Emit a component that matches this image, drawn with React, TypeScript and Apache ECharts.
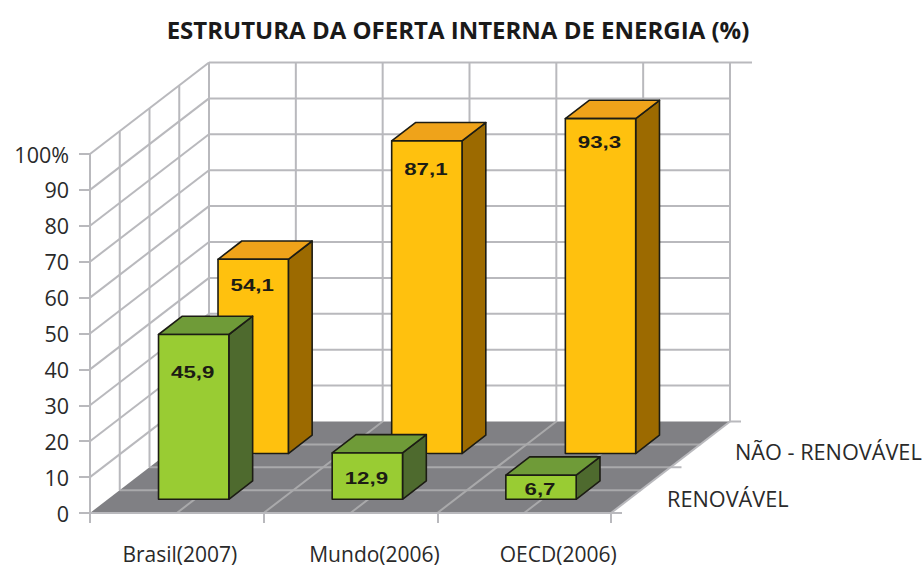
import React, { useEffect, useRef } from "react";
import * as echarts from "echarts";

const titleText = "ESTRUTURA DA OFERTA INTERNA DE ENERGIA (%)";
const categories = ["Brasil(2007)", "Mundo(2006)", "OECD(2006)"];
const renewable = [45.9, 12.9, 6.7];
const nonRenewable = [54.1, 87.1, 93.3];
const renewableLabels = ["45,9", "12,9", "6,7"];
const nonRenewableLabels = ["54,1", "87,1", "93,3"];
const depthNames = ["NÃO - RENOVÁVEL", "RENOVÁVEL"];
const yTicks = [0, 10, 20, 30, 40, 50, 60, 70, 80, 90, 100];

const FONT = "'Open Sans', 'Noto Sans', sans-serif";
const DX = 119;
const DY = -91.5;
const GRID = "#b9b9bd";
const FLOOR_LINE = "#a9a9ab";

function makeWalls() {
  return (params: any, api: any) => {
    const cs = params.coordSys;
    const L = cs.x, R = cs.x + cs.width;
    const yOf = (v: number) => api.coord([0, v])[1];
    const y0 = yOf(0), y100 = yOf(100);
    const line = (x1: number, y1: number, x2: number, y2: number, stroke: string) => ({
      type: "line",
      shape: { x1, y1, x2, y2 },
      style: { stroke, lineWidth: 2 },
      silent: true,
    });
    const kids: any[] = [];
    kids.push({
      type: "polygon",
      shape: { points: [[L, y0], [R, y0], [R + DX, y0 + DY], [L + DX, y0 + DY]] },
      style: { fill: "#808084" },
      silent: true,
    });
    // floor lines
    for (const d of [0.25, 0.5, 0.75]) {
      kids.push(line(L + DX * d, y0 + DY * d, R + DX * d, y0 + DY * d, FLOOR_LINE));
    }
    for (let i = 1; i < 6; i++) {
      const x = L + (cs.width * i) / 6;
      kids.push(line(x, y0, x + DX, y0 + DY, FLOOR_LINE));
    }
    // back wall
    for (const v of yTicks) {
      const y = yOf(v) + DY;
      if (v > 0) kids.push(line(L + DX, y, R + DX, y, GRID));
    }
    for (let i = 0; i <= 6; i++) {
      const x = L + DX + (cs.width * i) / 6;
      kids.push(line(x, y100 + DY, x, y0 + DY, GRID));
    }
    // side wall
    for (const v of yTicks) {
      const y = yOf(v);
      if (v > 0) kids.push(line(L, y, L + DX, y + DY, GRID));
    }
    for (const d of [0.25, 0.5, 0.75]) {
      kids.push(line(L + DX * d, y100 + DY * d, L + DX * d, y0 + DY * d, GRID));
    }
    // floor edge and depth ticks
    kids.push(line(R, y0, R + DX, y0 + DY, GRID));
    kids.push(line(R, y0, R + 11, y0, GRID));
    kids.push(line(R + DX * 0.5, y0 + DY * 0.5, R + DX * 0.5 + 11, y0 + DY * 0.5, GRID));
    kids.push(line(R + DX, y0 + DY, R + DX + 11, y0 + DY, GRID));
    kids.push(line(R + DX, y100 + DY, R + DX + 22, y100 + DY, GRID));
    return { type: "group", children: kids };
  };
}

function makeBars(
  depth: number,
  labels: string[],
  drops: number[],
  colors: { front: string; top: string; side: string }
) {
  const D = 0.2;
  return (params: any, api: any) => {
    const i = api.value(0);
    const top = api.coord([i, api.value(1)]);
    const base = api.coord([i, 0]);
    const w = api.size([1, 0])[0] * 0.405;
    const ox = DX * (depth - D / 2) - 1, oy = DY * (depth - D / 2);
    const sx = DX * D, sy = DY * D;
    const x1 = top[0] - w / 2 + ox, x2 = x1 + w;
    const yT = top[1] + oy, yB = base[1] + oy;
    const stroke = { stroke: "#1c1c14", lineWidth: 1.6, lineJoin: "round" };
    return {
      type: "group",
      children: [
        {
          type: "polygon",
          shape: { points: [[x2, yT], [x2 + sx, yT + sy], [x2 + sx, yB + sy], [x2, yB]] },
          style: { fill: colors.side, ...stroke },
        },
        {
          type: "polygon",
          shape: { points: [[x1, yT], [x1 + sx, yT + sy], [x2 + sx, yT + sy], [x2, yT]] },
          style: { fill: colors.top, ...stroke },
        },
        {
          type: "rect",
          shape: { x: x1, y: yT, width: w, height: yB - yT },
          style: { fill: colors.front, ...stroke },
        },
        {
          type: "text",
          x: (x1 + x2) / 2 - 1,
          y: yT + drops[i],
          scaleX: 1.35,
          style: {
            text: labels[i],
            x: 0,
            y: 0,
            align: "center",
            verticalAlign: "middle",
            fill: "#1c1c14",
            font: "bold 16.5px 'Liberation Sans', sans-serif",
          },
        },
      ],
    };
  };
}

const orange = { front: "#FFC10E", top: "#EFA31A", side: "#9C6A00" };
const green = { front: "#99CC33", top: "#6F9B38", side: "#4E6A2E" };
const nonRenewableDrops = [26, 28, 24];
const renewableDrops = [38, 25, 14];

export default function App() {
  const ref = useRef<HTMLDivElement>(null);
  useEffect(() => {
    if (!ref.current) return;
    const chart = echarts.init(ref.current, undefined, { renderer: "svg" });
    chart.setOption({
      animation: false,
      backgroundColor: "#ffffff",
      title: {
        text: titleText,
        left: 453,
        top: 12,
        textAlign: "center",
        textStyle: { fontFamily: FONT, fontWeight: "bold", fontSize: 24, color: "#1a1a1a" },
      },
      grid: { left: 90, top: 154, width: 521, height: 359 },
      xAxis: {
        type: "category",
        data: categories,
        z: 5,
        axisLine: { show: true, lineStyle: { color: GRID, width: 2 } },
        axisTick: { show: true, alignWithLabel: false, length: 10, lineStyle: { color: GRID, width: 2 } },
        axisLabel: {
          margin: 30,
          interval: 0,
          formatter: (v: string, i: number) => `{c${i}|${v}}`,
          rich: {
            c0: { fontFamily: FONT, fontSize: 21, color: "#2a2a2a", padding: [0, 0, 0, 6] },
            c1: { fontFamily: FONT, fontSize: 21, color: "#2a2a2a", padding: [0, 0, 0, 48] },
            c2: { fontFamily: FONT, fontSize: 21, color: "#2a2a2a", padding: [0, 0, 0, 68] },
          },
        },
      },
      yAxis: {
        type: "value",
        min: 0,
        max: 100,
        interval: 10,
        splitLine: { show: false },
        axisLine: { show: true, lineStyle: { color: GRID, width: 2 } },
        axisTick: { show: true, length: 11, lineStyle: { color: GRID, width: 2 } },
        axisLabel: {
          margin: 21,
          fontFamily: FONT,
          fontSize: 21.5,
          color: "#2a2a2a",
          formatter: (v: number) => (v === 100 ? "100%" : String(v)),
        },
      },
      graphic: [
        {
          type: "text",
          x: 735,
          y: 451,
          style: { text: depthNames[0], fontFamily: FONT, fontSize: 21.7, fill: "#2a2a2a", verticalAlign: "middle" },
        },
        {
          type: "text",
          x: 667,
          y: 498,
          style: { text: depthNames[1], fontFamily: FONT, fontSize: 21.7, fill: "#2a2a2a", verticalAlign: "middle" },
        },
      ],
      series: [
        { type: "custom", silent: true, data: [[0, 0]], encode: { x: 0, y: 1 }, renderItem: makeWalls(), z: 1 },
        {
          type: "custom",
          silent: true,
          data: nonRenewable.map((v, i) => [i, v]),
          encode: { x: 0, y: 1 },
          renderItem: makeBars(0.75, nonRenewableLabels, nonRenewableDrops, orange),
          z: 3,
        },
        {
          type: "custom",
          silent: true,
          data: renewable.map((v, i) => [i, v]),
          encode: { x: 0, y: 1 },
          renderItem: makeBars(0.25, renewableLabels, renewableDrops, green),
          z: 4,
        },
      ],
    });
    return () => chart.dispose();
  }, []);
  return <div ref={ref} style={{ position: "absolute", left: 0, top: 0, width: 923, height: 568 }} />;
}
